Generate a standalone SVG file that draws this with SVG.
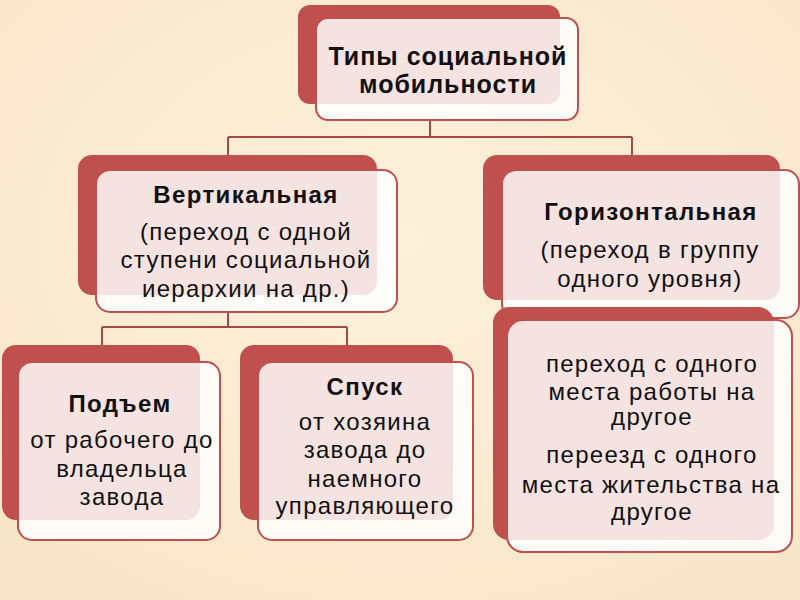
<svg xmlns="http://www.w3.org/2000/svg" width="800" height="600" viewBox="0 0 800 600">
<defs>
<radialGradient id="bg" cx="50%" cy="40%" r="75%">
<stop offset="0" stop-color="#fdf1db"/>
<stop offset="1" stop-color="#f7e5c8"/>
</radialGradient>
</defs>
<style>
.back{fill:#c0504d;}
.front{fill:#ffffff;fill-opacity:0.84;stroke:#c0504d;stroke-width:2;}
.conn{fill:none;stroke:#a5484a;stroke-width:2;}
text{font-family:"Liberation Sans",Arial,sans-serif;fill:#111;text-anchor:middle;}
.b{font-weight:bold;}
.t{font-size:25px;letter-spacing:1px;}
.h{font-size:24px;letter-spacing:1.4px;}
.n{font-size:24px;letter-spacing:1.3px;}
</style>
<rect width="800" height="600" fill="url(#bg)"/>
<g id="connectors">
<path class="conn" d="M430,120 V137 M228,137 H632 M228,137 V156 M632,137 V156"/>
<path class="conn" d="M228,312 V327 M102,327 H347 M102,327 V346 M347,327 V346"/>
</g>
<g id="node-types">
<rect class="back" x="298" y="5" width="262" height="99" rx="12"/>
<rect class="front" x="316" y="18" width="262" height="102" rx="12"/>
<text class="b t" x="448" y="65">Типы социальной</text>
<text class="b t" x="448" y="93">мобильности</text>
</g>
<g id="node-vertical">
<rect class="back" x="78" y="155" width="299" height="140" rx="14"/>
<rect class="front" x="96" y="170" width="301" height="142" rx="14"/>
<text class="b h" x="246" y="203">Вертикальная</text>
<text class="n" x="246" y="240">(переход  с одной</text>
<text class="n" x="246" y="268">ступени социальной</text>
<text class="n" x="246" y="297">иерархии на др.)</text>
</g>
<g id="node-horizontal">
<rect class="back" x="483" y="155" width="297" height="145" rx="14"/>
<rect class="front" x="502" y="170" width="297" height="148" rx="14"/>
<text class="b h" x="651" y="220">Горизонтальная</text>
<text class="n" x="650" y="258">(переход в группу</text>
<text class="n" x="650" y="287">одного уровня)</text>
</g>
<g id="node-horizontal-examples">
<rect class="back" x="493" y="307" width="281" height="233" rx="16"/>
<rect class="front" x="507" y="320" width="285" height="232" rx="16"/>
<text class="n" x="652" y="372">переход с одного</text>
<text class="n" x="652" y="400">места работы на</text>
<text class="n" x="652" y="425">другое</text>
<text class="n" x="652" y="463">переезд с одного</text>
<text class="n" x="651" y="493">места жительства на</text>
<text class="n" x="652" y="520">другое</text>
</g>
<g id="node-up">
<rect class="back" x="2" y="345" width="198" height="175" rx="14"/>
<rect class="front" x="18" y="362" width="202" height="178" rx="14"/>
<text class="b h" x="120" y="412">Подъем</text>
<text class="n" x="122" y="448">от рабочего до</text>
<text class="n" x="122" y="477">владельца</text>
<text class="n" x="122" y="505">завода</text>
</g>
<g id="node-down">
<rect class="back" x="240" y="345" width="213" height="175" rx="14"/>
<rect class="front" x="258" y="362" width="215" height="178" rx="14"/>
<text class="b h" x="365" y="395">Спуск</text>
<text class="n" x="365" y="430">от хозяина</text>
<text class="n" x="365" y="458">завода до</text>
<text class="n" x="365" y="487">наемного</text>
<text class="n" x="365" y="514">управляющего</text>
</g>
</svg>
